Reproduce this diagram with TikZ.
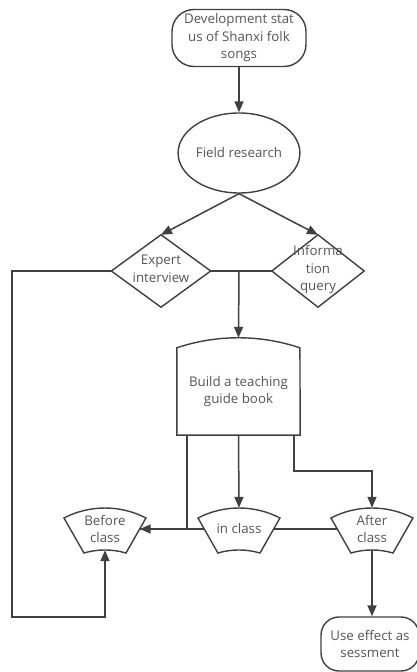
\documentclass[tikz,border=0pt]{standalone}
\usepackage{fontspec}
\setmainfont{Open Sans}
\usetikzlibrary{arrows.meta,shapes.geometric}
\definecolor{linec}{HTML}{404040}
\definecolor{textc}{HTML}{555555}
\begin{document}
\begin{tikzpicture}[x=1pt,y=1pt,
  every node/.style={font=\fontsize{13.3}{17.5}\selectfont, text=textc, align=center, inner sep=0pt},
  ln/.style={draw=linec, line width=1.5pt},
  arr/.style={ln, -{Triangle[length=11pt,width=9pt]}},
  shp/.style={draw=linec, line width=1.4pt, fill=white},
]
\useasboundingbox (0,0) rectangle (417,672);
% nodes
\node[shp, rectangle, rounded corners=22pt, minimum width=134pt, minimum height=57pt] (top) at (239,634) {Development stat\\us of Shanxi folk\\songs};
\node[shp, ellipse, minimum width=112pt, minimum height=80pt] (field) at (239,519) {Field research};
\node[rectangle, minimum width=99pt, minimum height=72pt] (expert) at (161,401) {};
\node[rectangle, minimum width=92pt, minimum height=72pt] (info) at (318,401) {};
\path[shp] (expert.north) -- (expert.east) -- (expert.south) -- (expert.west) -- cycle;
\path[shp] (info.north) -- (info.east) -- (info.south) -- (info.west) -- cycle;
\node at ([yshift=2pt]expert.center) {Expert\\interview};
\node at ([yshift=1pt]info.center) {Informa\\tion\\query};
% book
\node[rectangle, minimum width=123pt, minimum height=97pt] (book) at (238.5,285.5) {};
\path[shp] ([yshift=-10pt]book.north west) arc[start angle=108.5, end angle=71.5, radius=194pt] -- (book.south east) -- (book.south west) -- cycle;
\node (booktext) at ([yshift=-5pt]book.center) {Build a teaching\\guide book};
% fan shapes
\foreach \n/\x in {before/105, inclass/239, after/372}{
  \node[rectangle, minimum width=69pt, minimum height=42pt] (\n) at (\x,143) {};
  \path[shp] (\x-41,154) arc[start angle=117.4, end angle=62.6, radius=89.05pt]
     -- (\x+21,119) arc[start angle=73.7, end angle=106.3, radius=75pt] -- cycle;
}
\node at (before.center) {Before\\class};
\node at (inclass.center) {in class};
\node at (after.center) {After\\class};
\node[shp, rectangle, rounded corners=18pt, minimum width=98pt, minimum height=54pt] (use) at (370,28) {Use effect as\\sessment};
% connectors
\coordinate (mid) at (239,401);
\coordinate (loopc) at (12,55);
\draw[arr] (top) -- (field);
\draw[arr] (field.south) -- (expert.north);
\draw[arr] (field.south) -- (info.north);
\draw[ln] (expert.east) -- (info.west);
\draw[arr] (mid) -- (book.north);
\draw[ln] ([xshift=10pt]book.south west) |- (before.east);
\draw[arr] (inclass.west) -- (before.east);
\draw[arr] (book.south) -- (inclass.north);
\draw[arr] ([xshift=-6pt]book.south east) |- (after.north |- 0,201) -- (after.north);
\draw[ln] (after.west) -- (inclass.east);
\draw[arr] (after.south) -- (after.south |- use.north);
\draw[arr] (expert.west) -| (loopc) -| (before.south);
\end{tikzpicture}
\end{document}
